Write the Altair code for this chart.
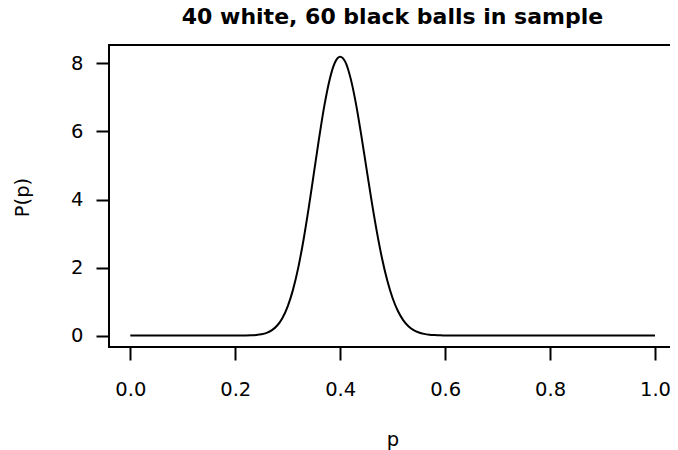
import altair as alt
import pandas as pd

# values
p_vals = [0.0, 0.1, 0.2, 0.21, 0.22, 0.23, 0.24, 0.25, 0.26, 0.27, 0.28, 0.29,
          0.30, 0.31, 0.32, 0.33, 0.34, 0.35, 0.36, 0.37, 0.38, 0.39,
          0.40, 0.41, 0.42, 0.43, 0.44, 0.45, 0.46, 0.47, 0.48, 0.49,
          0.50, 0.51, 0.52, 0.53, 0.54, 0.55, 0.56, 0.57, 0.58, 0.59,
          0.60, 0.61, 0.62, 0.7, 0.8, 0.9, 1.0]
density = [0.0, 0.0, 0.0, 0.001, 0.002, 0.006, 0.016, 0.037, 0.079, 0.157, 0.294, 0.517,
           0.858, 1.342, 1.990, 2.802, 3.751, 4.788, 5.825, 6.774, 7.532, 8.029,
           8.200, 8.040, 7.555, 6.820, 5.907, 4.924, 3.944, 3.041, 2.251, 1.602,
           1.096, 0.720, 0.454, 0.275, 0.160, 0.089, 0.048, 0.024, 0.012, 0.005,
           0.003, 0.001, 0.0, 0.0, 0.0, 0.0, 0.0]
x_ticks = [0.0, 0.2, 0.4, 0.6, 0.8, 1.0]
y_ticks = [0, 2, 4, 6, 8]

df = pd.DataFrame({"p": p_vals, "P": density})

FONT = "DejaVu Sans"
xscale = alt.Scale(domain=[-0.0406, 1.04], nice=False, zero=False)
yscale = alt.Scale(domain=[-0.338, 8.544], nice=False, zero=False)

chart = alt.Chart(df).mark_line(color="black", strokeWidth=2, interpolate="monotone").encode(
    x=alt.X("p:Q", scale=xscale, axis=alt.Axis(
        orient="bottom", values=x_ticks, format=".1f", title="p", grid=False,
        domain=False,
        ticks=True, tickColor="black", tickWidth=2, tickSize=13,
        labelFont=FONT, labelFontSize=19.5, labelColor="black",
        labelBaseline="alphabetic", labelPadding=35, labelFlush=False,
        titleFont=FONT, titleFontSize=19.5, titleFontWeight="normal", titleColor="black",
        titleBaseline="alphabetic", titleY=98)),
    y=alt.Y("P:Q", scale=yscale, axis=alt.Axis(
        orient="left", values=y_ticks, format="d", title="P(p)", grid=False,
        domain=False,
        ticks=True, tickColor="black", tickWidth=2, tickSize=13,
        labelFont=FONT, labelFontSize=19.5, labelColor="black", labelPadding=13,
        labelAngle=0, labelFlush=False,
        titleFont=FONT, titleFontSize=19.5, titleFontWeight="normal", titleColor="black",
        titleAngle=270, titleBaseline="middle", titleAlign="center",
        titleX=-87, titleY=152)),
).properties(
    width=567, height=302,
    autosize=alt.AutoSizeParams(type="none"),
    padding={"left": 101, "top": 37, "right": -6, "bottom": 105},
    title=alt.TitleParams("40 white, 60 black balls in sample", font=FONT, fontSize=22,
                          fontWeight="bold", color="black", anchor="middle",
                          baseline="alphabetic", offset=-1),
).configure_view(stroke="black", strokeWidth=2)

chart.save("out.html", embed_options={"renderer": "svg", "actions": False})
